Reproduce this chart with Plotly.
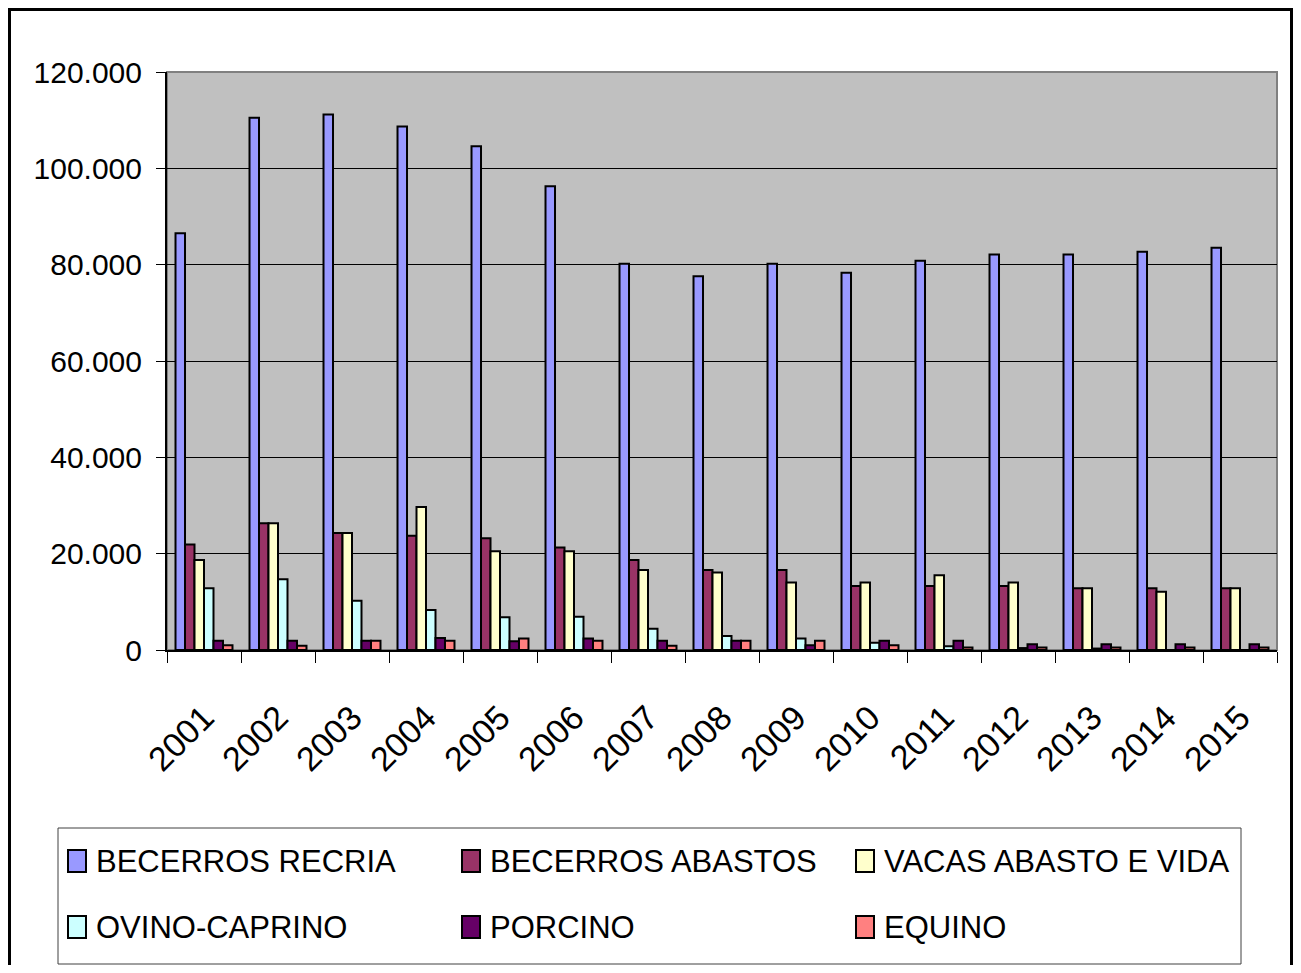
import plotly.graph_objects as go

YEARS = ["2001", "2002", "2003", "2004", "2005", "2006", "2007", "2008",
         "2009", "2010", "2011", "2012", "2013", "2014", "2015"]

BECERROS_RECRIA = [86500, 110500, 111200, 108700, 104600, 96300, 80200, 77600,
                   80200, 78300, 80800, 82100, 82100, 82700, 83500]
BECERROS_ABASTOS = [21900, 26300, 24300, 23700, 23200, 21300, 18700, 16600,
                    16600, 13300, 13300, 13300, 12800, 12800, 12800]
VACAS_ABASTO_VIDA = [18700, 26300, 24300, 29700, 20500, 20500, 16600, 16100,
                     14000, 14000, 15500, 14000, 12800, 12100, 12800]
OVINO_CAPRINO = [12800, 14700, 10200, 8300, 6800, 6900, 4400, 2900,
                 2400, 1500, 800, 400, 300, 0, 0]
PORCINO = [1900, 1900, 1900, 2500, 1800, 2400, 1900, 1900,
           1000, 1900, 1900, 1200, 1200, 1200, 1200]
EQUINO = [1000, 900, 1900, 1900, 2400, 1900, 900, 1900,
          1900, 1000, 500, 500, 500, 500, 500]

SERIES = [
    ("BECERROS RECRIA", BECERROS_RECRIA, "#9999FF"),
    ("BECERROS ABASTOS", BECERROS_ABASTOS, "#993366"),
    ("VACAS ABASTO E VIDA", VACAS_ABASTO_VIDA, "#FFFFCC"),
    ("OVINO-CAPRINO", OVINO_CAPRINO, "#CCFFFF"),
    ("PORCINO", PORCINO, "#660066"),
    ("EQUINO", EQUINO, "#FF8080"),
]

FONT = "Liberation Sans, Arial, sans-serif"

# the page body adds an 8px margin, so work in figure pixels = page - 8
FIG_W, FIG_H = 1285, 957
L, R, T, B = 159, 1269, 64, 642
W, H = R - L, B - T


def px_x(px):
    return (px - L) / W


def px_y(py):
    return (B - py) / H


fig = go.Figure()
for name, values, color in SERIES:
    fig.add_trace(
        go.Bar(
            x=YEARS,
            y=values,
            name=name,
            marker={"color": color, "line": {"color": "#000000", "width": 2}},
            showlegend=False,
        )
    )

shapes = [
    # outer chart border (open at the bottom)
    dict(type="rect", xref="paper", yref="paper",
         x0=px_x(1.5), x1=px_x(1283.5), y0=px_y(1.5), y1=px_y(990),
         line={"color": "#000000", "width": 3}, fillcolor="rgba(0,0,0,0)",
         layer="below"),
    # plot area frame (grey top / right)
    dict(type="rect", xref="paper", yref="paper", x0=0, x1=1, y0=0, y1=1,
         line={"color": "#808080", "width": 2}, fillcolor="rgba(0,0,0,0)",
         layer="below"),
    # legend box
    dict(type="rect", xref="paper", yref="paper",
         x0=px_x(50), x1=px_x(1233), y0=px_y(820), y1=px_y(956),
         line={"color": "#404040", "width": 1}, fillcolor="#FFFFFF"),
]
annotations = []

# legend drawn as a 3 x 2 grid
col_x = [60, 454, 848]
row_y = [853, 919]
for i, (name, _, color) in enumerate(SERIES):
    cx = col_x[i % 3]
    cy = row_y[i // 3]
    shapes.append(dict(
        type="rect", xref="paper", yref="paper",
        x0=px_x(cx), x1=px_x(cx + 18), y0=px_y(cy - 11), y1=px_y(cy + 11),
        line={"color": "#000000", "width": 2}, fillcolor=color,
    ))
    annotations.append(dict(
        xref="paper", yref="paper", x=px_x(cx + 26), y=px_y(cy),
        text=name, showarrow=False, xanchor="left", yanchor="middle",
        font={"family": FONT, "size": 31, "color": "#000000"},
    ))

fig.update_layout(
    width=FIG_W,
    height=FIG_H,
    margin={"l": L, "r": FIG_W - R, "t": T, "b": FIG_H - B},
    paper_bgcolor="#FFFFFF",
    plot_bgcolor="#C0C0C0",
    barmode="group",
    bargap=0.23,
    bargroupgap=0,
    separators=",.",
    font={"family": FONT, "color": "#000000"},
    shapes=shapes,
    annotations=annotations,
    xaxis={
        "type": "category",
        "tickson": "boundaries",
        "ticks": "outside",
        "ticklen": 11,
        "tickcolor": "#000000",
        "tickwidth": 1,
        "showline": True,
        "linecolor": "#000000",
        "linewidth": 2,
        "showgrid": False,
        "tickangle": -45,
        "ticklabelstandoff": 32,
        "tickfont": {"family": FONT, "size": 34},
    },
    yaxis={
        "range": [0, 120000],
        "dtick": 20000,
        "tickformat": ",d",
        "ticks": "outside",
        "ticklen": 9,
        "tickcolor": "#000000",
        "showline": True,
        "linecolor": "#000000",
        "linewidth": 2,
        "showgrid": True,
        "gridcolor": "#000000",
        "gridwidth": 1,
        "zeroline": False,
        "ticklabelstandoff": 8,
        "tickfont": {"family": FONT, "size": 30},
    },
)

fig.write_html("out.html")
